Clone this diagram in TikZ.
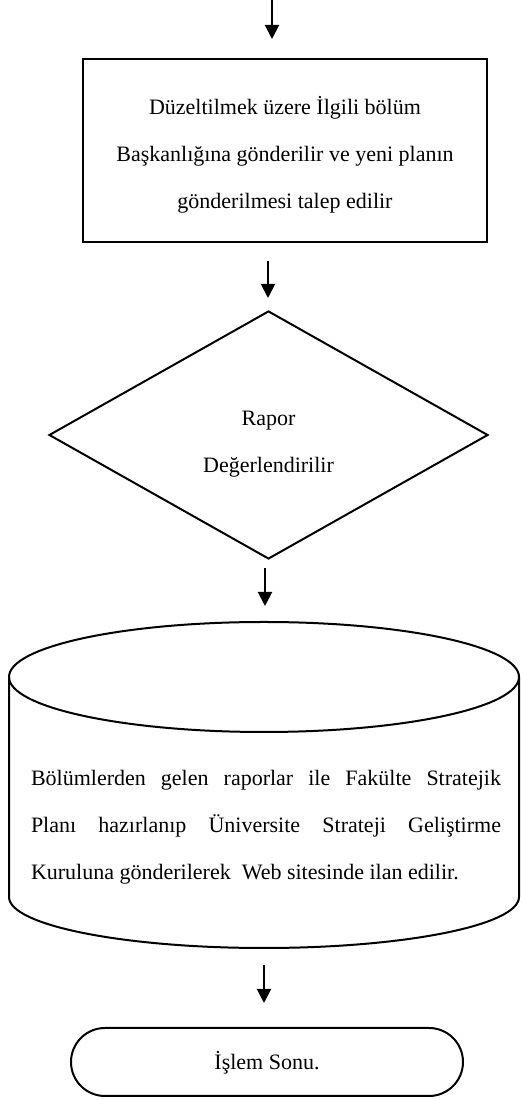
\documentclass[tikz,border=0pt]{standalone}
\usepackage{fontspec}
\setmainfont{Liberation Serif}
\usetikzlibrary{arrows.meta,shapes.geometric,shapes.misc}
\tikzset{
  box/.style={draw, line width=2pt, inner sep=0pt},
  arr/.style={line width=2pt, -{Triangle[width=14pt,length=14pt]}},
  txt/.style={font={\fontsize{22}{47}\selectfont}, align=center, inner sep=0pt},
  linesp/.style={line width=2pt}
}
\begin{document}
\begin{tikzpicture}[x=1pt,y=1pt]
\useasboundingbox (0,0) rectangle (520,1100);
% arrow 1
\coordinate (a1s) at (272,1100);
\coordinate (a1e) at (272,1061);
\draw[arr] (a1s) -- (a1e);
% rectangle
\node[box, rectangle, minimum width=404pt, minimum height=183pt] (rect) at (285,949.5) {};
\node[txt] (recttxt) at (285,945) {Düzeltilmek üzere İlgili bölüm\\Başkanlığına gönderilir ve yeni planın\\gönderilmesi talep edilir};
% arrow 2
\coordinate (a2s) at (268,839);
\coordinate (a2e) at (268,802);
\draw[arr] (a2s) -- (a2e);
% diamond
\node[box, diamond, minimum width=439pt, minimum height=248pt] (dia) at (268.5,665) {};
\node[txt] (diatxt) at (268.5,656) {Rapor\\Değerlendirilir};
% arrow 3
\coordinate (a3s) at (265,532);
\coordinate (a3e) at (265,494);
\draw[arr] (a3s) -- (a3e);
% cylinder
\coordinate (ctop) at (264,423);
\coordinate (cbot) at (264,203);
\draw[linesp] (ctop) ellipse [x radius=255pt, y radius=55pt];
\draw[linesp] ([xshift=-255pt]ctop) -- ([xshift=-255pt]cbot)
  arc[start angle=180, end angle=360, x radius=255pt, y radius=51pt]
  -- ([xshift=255pt]ctop);
\node[txt, align=left] (cyltxt) at (266,272.5) {%
\makebox[470pt][s]{Bölümlerden gelen raporlar ile Fakülte Stratejik}\\
\makebox[470pt][s]{Planı hazırlanıp Üniversite Strateji Geliştirme}\\
\makebox[470pt][l]{Kuruluna gönderilerek\ \ Web sitesinde ilan edilir.}};
% arrow 4
\coordinate (a4s) at (264,135);
\coordinate (a4e) at (264,97);
\draw[arr] (a4s) -- (a4e);
% terminal
\node[box, rounded rectangle, minimum width=392pt, minimum height=68pt] (term) at (267,38) {};
\node[txt] (termtxt) at (267,37) {İşlem Sonu.};
\end{tikzpicture}
\end{document}
